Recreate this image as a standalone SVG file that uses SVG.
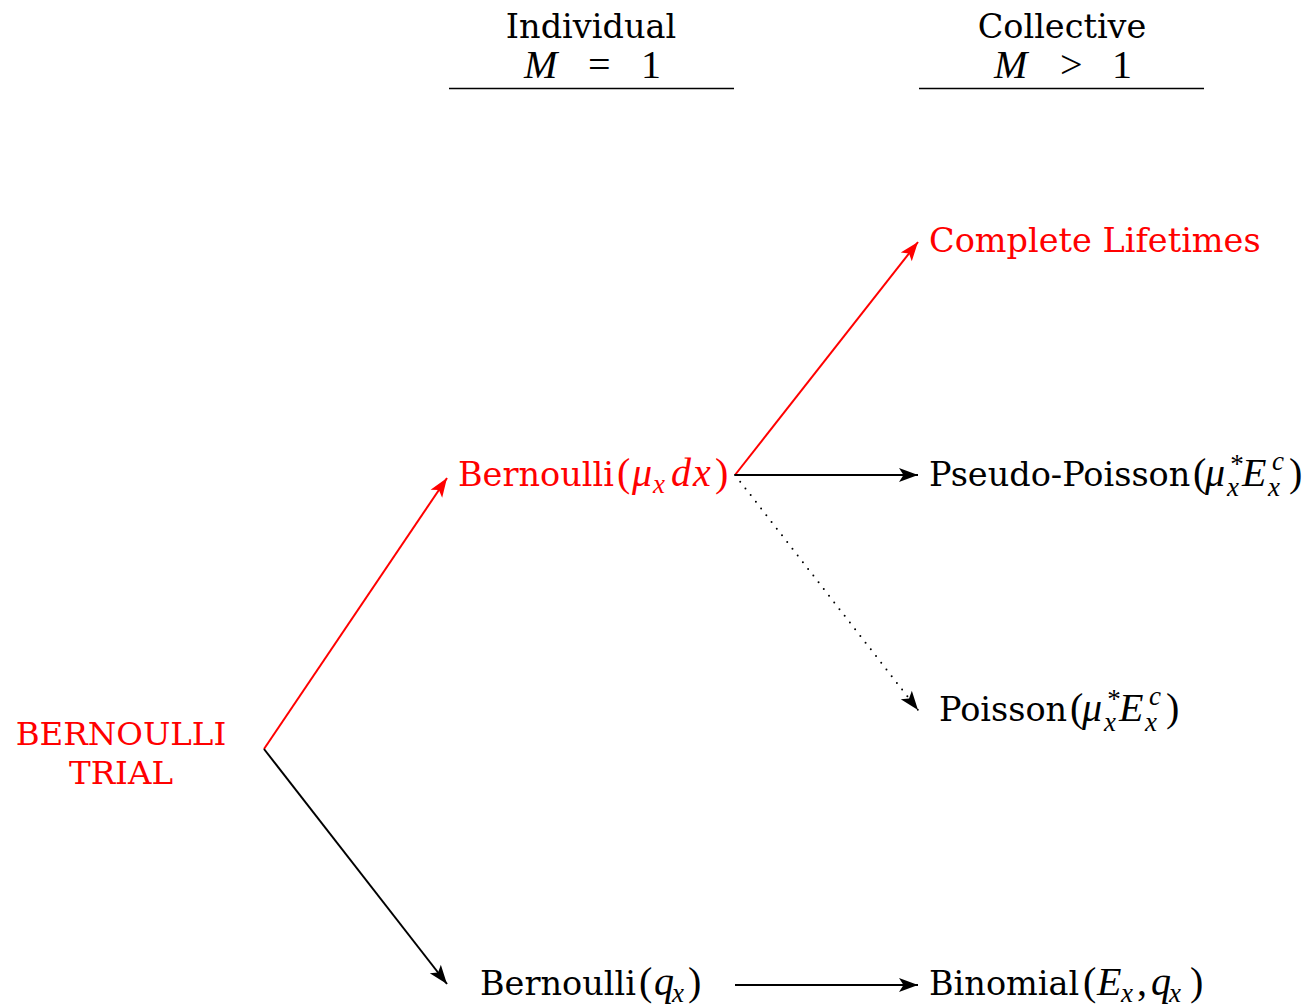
<svg xmlns="http://www.w3.org/2000/svg" width="1312" height="1008" viewBox="0 0 1312 1008">
<style>
  .t { font-family: "DejaVu Serif", "Liberation Serif", serif; font-size: 33.5px; }
  .m { font-family: "Liberation Serif", "DejaVu Serif", serif; font-style: italic; font-size: 40px; }
  .u { font-family: "Liberation Serif", "DejaVu Serif", serif; font-style: normal; font-size: 40px; }
  .s { font-family: "Liberation Serif", "DejaVu Serif", serif; font-style: italic; font-size: 27px; }
  .red { fill: #ff0000; }
  .blk { fill: #000000; }
  .ln { fill: none; stroke-width: 2; }
</style>
<defs>
  <marker id="ab" markerUnits="userSpaceOnUse" markerWidth="22" markerHeight="18" viewBox="-20 -9 22 18" refX="0" refY="0" orient="auto">
    <path d="M0,0 L-19,-7 L-14.5,0 L-19,7 Z" fill="#000"/>
  </marker>
  <marker id="ar" markerUnits="userSpaceOnUse" markerWidth="22" markerHeight="18" viewBox="-20 -9 22 18" refX="0" refY="0" orient="auto">
    <path d="M0,0 L-19,-7 L-14.5,0 L-19,7 Z" fill="#ff0000"/>
  </marker>
</defs>
<rect width="1312" height="1008" fill="#ffffff"/>

<g id="header-individual">
  <text class="t blk" x="591" y="38" text-anchor="middle">Individual</text>
  <text class="blk" y="78"><tspan class="m" x="524">M</tspan><tspan class="u" x="588">=</tspan><tspan class="u" x="641">1</tspan></text>
  <line x1="449" y1="88.5" x2="734" y2="88.5" stroke="#000" stroke-width="1.3"/>
</g>
<g id="header-collective">
  <text class="t blk" x="1062" y="38" text-anchor="middle">Collective</text>
  <text class="blk" y="78"><tspan class="m" x="994">M</tspan><tspan class="u" x="1060">&gt;</tspan><tspan class="u" x="1112">1</tspan></text>
  <line x1="919" y1="88.5" x2="1204" y2="88.5" stroke="#000" stroke-width="1.3"/>
</g>

<g id="connectors">
  <line class="ln" x1="264" y1="749" x2="447" y2="478" stroke="#ff0000" marker-end="url(#ar)"/>
  <line class="ln" x1="264" y1="749" x2="447" y2="984" stroke="#000" marker-end="url(#ab)"/>
  <line class="ln" x1="735" y1="475" x2="918" y2="242" stroke="#ff0000" marker-end="url(#ar)"/>
  <line class="ln" x1="735" y1="475" x2="918" y2="475" stroke="#000" marker-end="url(#ab)"/>
  <line class="ln" x1="735" y1="475" x2="918" y2="710" stroke="#000" stroke-dasharray="0 8.5" stroke-linecap="round" marker-end="url(#ab)"/>
  <line class="ln" x1="735" y1="985" x2="918" y2="985" stroke="#000" marker-end="url(#ab)"/>
</g>

<g id="node-bernoulli-trial">
  <text class="t red" x="121" y="745" text-anchor="middle" style="font-size:32.5px">BERNOULLI</text>
  <text class="t red" x="121" y="784" text-anchor="middle" style="font-size:32.5px">TRIAL</text>
</g>

<g id="node-bernoulli-mu">
  <text class="red" y="486"><tspan class="t" x="458">Bernoulli</tspan><tspan class="u" x="617">(</tspan><tspan class="m" x="632">μ</tspan><tspan class="s" x="653" y="493">x</tspan><tspan class="m" x="671" y="486">d</tspan><tspan class="m" x="693">x</tspan><tspan class="u" x="715">)</tspan></text>
</g>

<g id="node-bernoulli-q">
  <text class="blk" y="995"><tspan class="t" x="480">Bernoulli</tspan><tspan class="u" x="639">(</tspan><tspan class="m" x="654">q</tspan><tspan class="s" x="672" y="1002">x</tspan><tspan class="u" x="688" y="995">)</tspan></text>
</g>

<g id="node-complete-lifetimes">
  <text class="t red" x="929" y="252">Complete Lifetimes</text>
</g>

<g id="node-pseudo-poisson">
  <text class="blk" y="486"><tspan class="t" x="929">Pseudo-Poisson</tspan><tspan class="u" x="1193">(</tspan><tspan class="m" x="1205">μ</tspan><tspan class="s" x="1229" y="473">*</tspan><tspan class="s" x="1227" y="496">x</tspan><tspan class="m" x="1242" y="486">E</tspan><tspan class="s" x="1272" y="470">c</tspan><tspan class="s" x="1268" y="496">x</tspan><tspan class="u" x="1289" y="486">)</tspan></text>
</g>

<g id="node-poisson">
  <text class="blk" y="721"><tspan class="t" x="939">Poisson</tspan><tspan class="u" x="1070">(</tspan><tspan class="m" x="1082">μ</tspan><tspan class="s" x="1106" y="708">*</tspan><tspan class="s" x="1104" y="731">x</tspan><tspan class="m" x="1119" y="721">E</tspan><tspan class="s" x="1149" y="705">c</tspan><tspan class="s" x="1145" y="731">x</tspan><tspan class="u" x="1166" y="721">)</tspan></text>
</g>

<g id="node-binomial">
  <text class="blk" y="995"><tspan class="t" x="929">Binomial</tspan><tspan class="u" x="1083">(</tspan><tspan class="m" x="1097">E</tspan><tspan class="s" x="1121" y="1002">x</tspan><tspan class="u" x="1137" y="995">,</tspan><tspan class="m" x="1151">q</tspan><tspan class="s" x="1169" y="1002">x</tspan><tspan class="u" x="1190" y="995">)</tspan></text>
</g>
</svg>
